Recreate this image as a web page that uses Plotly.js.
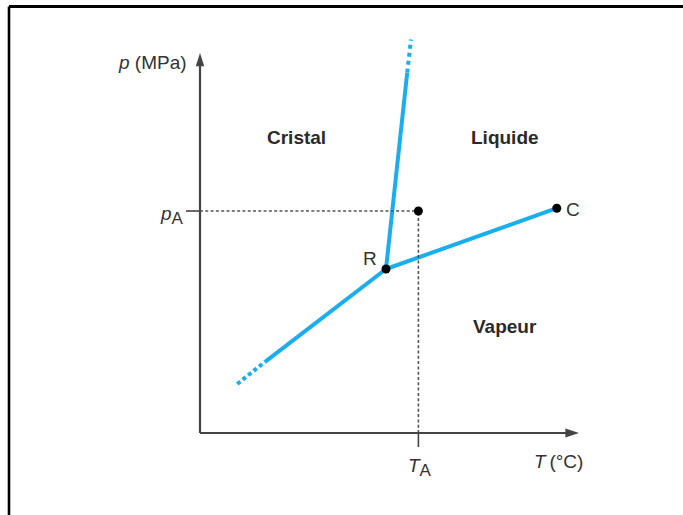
<!DOCTYPE html>
<html><head><meta charset="utf-8">
<script src="https://cdn.plot.ly/plotly-3.0.1.min.js"></script>
<style>html,body{margin:0;padding:0;background:#fff;overflow:hidden;} #chart{width:683px;height:515px;}</style>
</head><body><div id="chart"></div>
<script>
// Phase diagram of a pure substance (arbitrary units: T horizontal, p vertical)
const sublimDotT = [9.3, 16.25];
const sublimDotP = [12.25, 17.8];
const sublimT = [16.25, 46.5];
const sublimP = [17.8, 41];
const fusionT = [46.5, 51.8];
const fusionP = [41, 90.1];
const fusionDotT = [51.8, 52.75];
const fusionDotP = [90.1, 98.4];
const vaporT = [46.5, 89.2];
const vaporP = [41, 56.2];
const pointNames = ['R', 'C'];
const pointT = [46.5, 89.2];
const pointP = [41, 56.2];
const TA = 54.6;
const pA = 55.5;
const axisTmax = 94.75;
const axisPmax = 95;
const regionNames = ['Cristal', 'Liquide', 'Vapeur'];
const axisLabels = ['<i>p</i> (MPa)', '<i>T</i>\u2009(°C)'];
const refLabels = ['<i>p</i><sub><span style="font-size:17px">A</span></sub>', '<i>T</i><sub><span style="font-size:17px">A</span></sub>'];

const FONT = 'Liberation Sans, Arial, sans-serif';
const BLUE = '#19aeef';
const AX = '#444';
const tickLen = 3.5;

const traces = [
  {x: sublimDotT, y: sublimDotP, mode: 'lines', line: {color: BLUE, width: 4, dash: '4px,3px'}},
  {x: sublimT, y: sublimP, mode: 'lines', line: {color: BLUE, width: 4}},
  {x: fusionT, y: fusionP, mode: 'lines', line: {color: BLUE, width: 4}},
  {x: fusionDotT, y: fusionDotP, mode: 'lines', line: {color: BLUE, width: 4, dash: '4px,4px'}},
  {x: vaporT, y: vaporP, mode: 'lines', line: {color: BLUE, width: 4}},
  // reference lines for point A
  {x: [0, TA], y: [pA, pA], mode: 'lines', line: {color: '#555', width: 1.6, dash: '3px,2.3px'}},
  {x: [TA, TA], y: [0, pA], mode: 'lines', line: {color: '#555', width: 1.6, dash: '3px,2.3px'}},
  {x: [-tickLen, 0], y: [pA, pA], mode: 'lines', line: {color: AX, width: 1.6}},
  {x: [TA, TA], y: [-tickLen, 0], mode: 'lines', line: {color: AX, width: 1.6}},
  // axes
  {x: [0, axisTmax - 3], y: [0, 0], mode: 'lines', line: {color: AX, width: 2.2}},
  {x: [0, 0], y: [0, axisPmax - 3], mode: 'lines', line: {color: AX, width: 2.2}},
  // points
  {x: pointT, y: pointP, mode: 'markers', marker: {color: '#000', size: 9}},
  {x: [TA], y: [pA], mode: 'markers', marker: {color: '#000', size: 9}}
];

const shapes = [
  {type: 'path', xref: 'x', yref: 'y', fillcolor: AX, line: {width: 0},
   path: `M -1.05 ${axisPmax - 3.3} L 1.05 ${axisPmax - 3.3} L 0 ${axisPmax} Z`},
  {type: 'path', xref: 'x', yref: 'y', fillcolor: AX, line: {width: 0},
   path: `M ${axisTmax - 3.4} 1.1 L ${axisTmax - 3.4} -1.1 L ${axisTmax} 0 Z`},
  // frame
  {type: 'line', xref: 'paper', yref: 'paper', x0: 9/683, x1: 1, y0: 1 - 6.5/515, y1: 1 - 6.5/515, line: {color: '#000', width: 3}},
  {type: 'line', xref: 'paper', yref: 'paper', x0: 9/683, x1: 9/683, y0: 0, y1: 1 - 6.5/515, line: {color: '#000', width: 2.6}}
];

const f = (size, bold) => ({family: FONT, size: size, color: bold ? '#2a2a2a' : '#333', weight: bold ? 'bold' : 'normal'});
const ann = (x, y, text, extra) => Object.assign({x, y, xref: 'x', yref: 'y', text, showarrow: false, font: f(19, false)}, extra || {});

const annotations = [
  ann(24, 74, '<b>' + regionNames[0] + '</b>', {font: f(19, true)}),
  ann(76.25, 74, '<b>' + regionNames[1] + '</b>', {font: f(19, true)}),
  ann(76.25, 26.75, '<b>' + regionNames[2] + '</b>', {font: f(19, true)}),
  ann(42.6, 43.7, pointNames[0]),
  ann(93.25, 55.95, pointNames[1]),
  ann(-2.8, 92.75, axisLabels[0], {xanchor: 'right'}),
  ann(89.7, -7, axisLabels[1]),
  ann(-3.6, 54.4, refLabels[0], {xanchor: 'right'}),
  ann(55, -8.6, refLabels[1])
];

const layout = {
  width: 683, height: 515,
  margin: {l: 0, r: 0, t: 0, b: 0},
  paper_bgcolor: '#fff', plot_bgcolor: '#fff',
  showlegend: false,
  xaxis: {range: [-50, 120.75], visible: false, fixedrange: true},
  yaxis: {range: [-20.5, 108.25], visible: false, fixedrange: true},
  shapes, annotations
};

traces.forEach(t => { t.hoverinfo = 'skip'; t.cliponaxis = false; });
Plotly.newPlot('chart', traces, layout, {staticPlot: true, displayModeBar: false});
</script>
</body></html>
